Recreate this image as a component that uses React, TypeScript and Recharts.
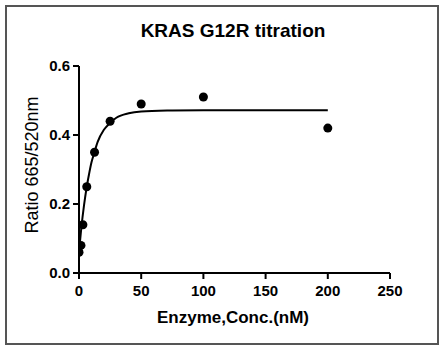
import { ComposedChart, Line, Scatter, XAxis, YAxis } from "recharts";

// measured points (enzyme nM -> ratio)
const concs = [0, 1.5625, 3.125, 6.25, 12.5, 25, 50, 100, 200];
const ratios = [0.06, 0.08, 0.14, 0.25, 0.35, 0.44, 0.49, 0.51, 0.42];

// fitted curve
const fitX = [0, 2, 4, 6, 8, 10, 12, 15, 20, 25, 30, 40, 50, 75, 100, 150, 200];
const fitY = [0.06, 0.135, 0.195, 0.245, 0.285, 0.32, 0.345, 0.38, 0.415, 0.435, 0.45, 0.463, 0.468, 0.471, 0.472, 0.472, 0.472];

const xTicks = [0, 50, 100, 150, 200, 250];
const yTicks = [0, 0.2, 0.4, 0.6];

const points = concs.map((x, i) => ({ x, y: ratios[i] }));
const curve = fitX.map((x, i) => ({ x, y: fitY[i] }));

const FONT = "'Liberation Sans', Arial, sans-serif";
const tickStyle = { fontSize: 15, fontWeight: 700, fill: "#000", fontFamily: FONT };

export default function App() {
  return (
    <div style={{ position: "absolute", left: 0, top: 0, width: 443, height: 350, background: "#fff" }}>
      <div
        style={{
          position: "absolute", left: 5, top: 5, width: 430, height: 336,
          border: "2px solid #555",
        }}
      />
      <div
        style={{
          position: "absolute", left: 0, top: 20, width: 466, textAlign: "center",
          fontFamily: FONT, fontWeight: 700, fontSize: 19, color: "#000",
        }}
      >
        KRAS G12R titration
      </div>
      <div
        style={{
          position: "absolute", left: 32, top: 165, width: 0, height: 0,
        }}
      >
        <div
          style={{
            position: "absolute", left: -100, top: -11, width: 200, textAlign: "center",
            transform: "rotate(-90deg)", fontFamily: FONT, fontSize: 18, color: "#000",
            whiteSpace: "nowrap", lineHeight: "22px",
          }}
        >
          Ratio 665/520nm
        </div>
      </div>
      <div
        style={{
          position: "absolute", left: 0, top: 308, width: 466, textAlign: "center",
          fontFamily: FONT, fontWeight: 700, fontSize: 17, color: "#000",
        }}
      >
        Enzyme,Conc.(nM)
      </div>
      <div style={{ position: "absolute", left: 0, top: 0 }}>
        <ComposedChart width={443} height={350} margin={{ top: 66, right: 53, left: 29, bottom: 47 }}>
          <XAxis
            type="number"
            dataKey="x"
            domain={[0, 250]}
            ticks={xTicks}
            tick={tickStyle}
            tickSize={6}
            tickMargin={6}
            height={30}
            stroke="#000"
            strokeWidth={2}
            allowDataOverflow
          />
          <YAxis
            type="number"
            dataKey="y"
            domain={[0, 0.6]}
            ticks={yTicks}
            tickFormatter={(v: number) => v.toFixed(1)}
            tick={tickStyle}
            tickSize={6}
            tickMargin={3}
            width={50}
            stroke="#000"
            strokeWidth={2}
          />
          <Line
            data={curve}
            dataKey="y"
            type="monotone"
            stroke="#000"
            strokeWidth={2}
            dot={false}
            isAnimationActive={false}
          />
          <Scatter data={points} dataKey="y" fill="#000" isAnimationActive={false} />
        </ComposedChart>
      </div>
    </div>
  );
}
